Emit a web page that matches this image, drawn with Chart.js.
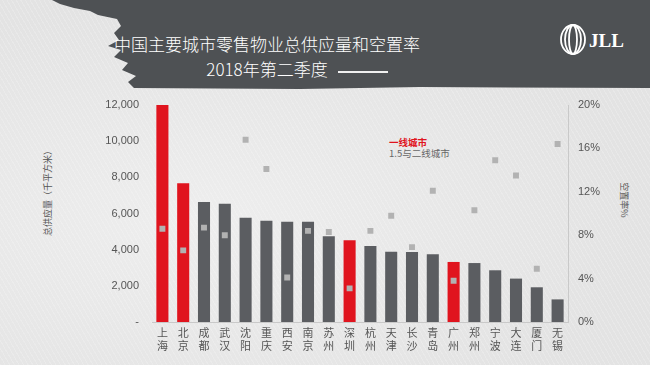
<!DOCTYPE html>
<html>
<head>
<meta charset="utf-8">
<script src="https://cdn.jsdelivr.net/npm/chart.js@4"></script>
<style>
  html, body { margin: 0; padding: 0; }
  body {
    width: 650px; height: 365px; overflow: hidden; position: relative;
    font-family: "Noto Sans CJK SC", "Noto Sans", sans-serif;
    background-color: #e8e8e8;
    background-image:
      repeating-linear-gradient(60deg, rgba(255,255,255,0.18) 0 1px, rgba(0,0,0,0) 1px 4px),
      radial-gradient(ellipse at 30% 60%, #eeeeee 0%, #e3e3e3 70%);
  }
  #header {
    position: absolute; left: 0; top: 0; width: 650px; height: 92px;
    background: #4e5154;
    clip-path: polygon(52px 0, 650px 0, 650px 88px, 420px 87px, 300px 89px, 134px 88px,
      128px 82px, 136px 76px, 122px 70px, 128px 63px, 114px 57px, 121px 50px, 108px 46px,
      119px 40px, 114px 33px, 121px 26px, 117px 19px, 98px 15px, 90px 11px, 74px 8px, 60px 4px);
  }
  .title {
    position: absolute; left: 267px; transform: translate(-50%, -50%);
    color: #ffffff; font-size: 17px; white-space: nowrap; font-weight: 300;
  }
  #uline { position: absolute; left: 338px; top: 71px; width: 50px; height: 1.5px; background: #f0f0f0; }
  .legend { position: absolute; left: 389px; font-size: 9.5px; white-space: nowrap; transform: translateY(-50%); }
  .axt { position: absolute; font-size: 9px; color: #555; white-space: nowrap; }
  canvas { position: absolute; left: 0; top: 0; }
</style>
</head>
<body>
<div id="header"></div>
<div class="title" style="top:43px">中国主要城市零售物业总供应量和空置率</div>
<div class="title" style="top:68px">2018年第二季度</div>
<div id="uline"></div>
<svg style="position:absolute;left:558px;top:23px" width="70" height="34">
  <g fill="none" stroke="#ffffff" stroke-width="1.8">
    <ellipse cx="15" cy="16.5" rx="12" ry="14.5"/>
    <ellipse cx="15" cy="16.5" rx="8" ry="14.5"/>
    <ellipse cx="15" cy="16.5" rx="4" ry="14.5"/>
  </g>
  <text x="31" y="24" fill="#ffffff" font-family="Liberation Serif" font-weight="bold" font-size="19">JLL</text>
</svg>
<div class="legend" style="top:142px;color:#e0141e;font-weight:bold">一线城市</div>
<div class="legend" style="top:153px;color:#666">1.5与二线城市</div>
<div class="axt" style="left:47px;top:191px;transform:translate(-50%,-50%) rotate(-90deg)">总供应量（千平方米）</div>
<div class="axt" style="left:624px;top:200px;transform:translate(-50%,-50%) rotate(90deg)">空置率%</div>
<canvas id="chart" width="650" height="365"></canvas>
<script>
// cities, supply (thousand sqm) and vacancy rate (%)
const cities = ['上海','北京','成都','武汉','沈阳','重庆','西安','南京','苏州','深圳',
                '杭州','天津','长沙','青岛','广州','郑州','宁波','大连','厦门','无锡'];
const supply = [12000, 7670, 6640, 6540, 5770, 5600, 5550, 5550, 4740, 4520,
                4200, 3890, 3870, 3740, 3320, 3260, 2860, 2400, 1920, 1250];
const vacancy = [8.6, 6.6, 8.7, 8.0, 16.8, 14.1, 4.1, 8.4, 8.3, 3.1,
                 8.4, 9.8, 6.9, 12.1, 3.8, 10.3, 14.9, 13.5, 4.9, 16.4];
const tierOne = ['上海','北京','深圳','广州'];

const RED = '#e0141e', GREY = '#5b5d61';
const barColors = cities.map(c => tierOne.includes(c) ? RED : GREY);

new Chart(document.getElementById('chart'), {
    type: 'bar',
    data: {
        labels: cities.map(c => c.split('')),
        datasets: [
            {
                type: 'line',
                label: '空置率',
                data: vacancy,
                yAxisID: 'y1',
                showLine: false,
                pointStyle: 'rect',
                pointRadius: 4.2,
                pointBackgroundColor: '#b2b2b2',
                pointBorderWidth: 0,
                order: 0
            },
            {
                label: '总供应量',
                data: supply,
                yAxisID: 'y',
                backgroundColor: barColors,
                barPercentage: 0.58,
                categoryPercentage: 1,
                order: 1
            }
        ]
    },
    options: {
        responsive: false,
        animation: false,
        layout: { padding: { top: 105, left: 0, right: 0, bottom: 0 } },
        plugins: { legend: { display: false }, tooltip: { enabled: false } },
        scales: {
            x: {
                grid: { display: false, drawTicks: false },
                border: { display: true, color: '#c9c9c9' },
                ticks: {
                    color: '#555', padding: 5, maxRotation: 0, autoSkip: false,
                    font: { family: 'Noto Sans CJK SC', size: 11, lineHeight: 1.12 }
                },
                afterFit: s => { s.height = 43; }
            },
            y: {
                position: 'left',
                min: 0, max: 12000,
                grid: { display: false, drawTicks: false },
                border: { display: false },
                ticks: {
                    stepSize: 2000, padding: 13, color: '#555',
                    font: { family: 'Liberation Sans', size: 11 },
                    callback: v => v === 0 ? '-' : v.toLocaleString('en-US')
                },
                afterFit: s => { s.width = 152; }
            },
            y1: {
                position: 'right',
                min: 0, max: 20,
                grid: { display: false, drawTicks: false },
                border: { display: true, color: '#c9c9c9' },
                ticks: {
                    stepSize: 4, padding: 10, color: '#555',
                    font: { family: 'Liberation Sans', size: 11 },
                    callback: v => v + '%'
                },
                afterFit: s => { s.width = 82; }
            }
        }
    }
});
</script>
</body>
</html>
